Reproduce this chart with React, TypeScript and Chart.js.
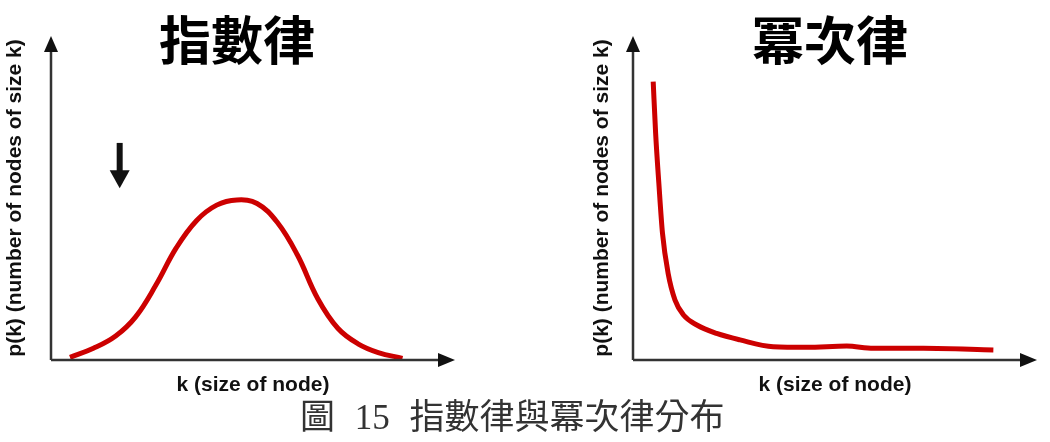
import React, { useEffect, useRef } from "react";
import { Chart, registerables } from "chart.js";

Chart.register(...registerables);

// ---- data ----
const leftTitle = "指數律";
const rightTitle = "冪次律";
const caption = "圖 15 指數律與冪次律分布";
const xAxisLabel = "k (size of node)";
const yAxisLabel = "p(k) (number of nodes of size k)";

// bell-shaped curve (left)
const bellK = [4.7, 10.5, 16, 21, 26, 31, 36, 41, 46, 51, 56, 61, 66, 71, 76, 81, 87];
const bellP = [0.8, 3.6, 7.4, 13.4, 23.2, 34.6, 43.0, 47.8, 49.4, 48.3, 42.5, 32.4, 19.0, 9.8, 5.0, 2.3, 0.5];

// power-law curve (right)
const powerK = [5.0, 5.6, 6.4, 7.3, 8.7, 10.4, 12.5, 15.8, 20.7, 26.5, 34.7, 43.0, 52.9, 59.5, 71.9, 89.2];
const powerP = [85.9, 70.0, 54.5, 39.1, 26.7, 18.5, 13.9, 10.8, 8.2, 6.2, 4.1, 3.9, 4.3, 3.6, 3.6, 3.1];

// annotation arrow on the left chart (data coordinates)
const downArrowK = [17];
const downArrowP = [67, 53];

const axisMin = 0;
const axisMax = 100;
const curveColor = "#cc0000";

function makeArrowPlugin(withDownArrow: boolean) {
  return {
    id: "axisArrows",
    afterDraw(chart: any) {
      const { ctx, chartArea } = chart;
      const { left, right, top, bottom } = chartArea;
      ctx.save();
      ctx.strokeStyle = "#333";
      ctx.fillStyle = "#111";
      ctx.lineWidth = 2.5;
      ctx.beginPath();
      ctx.moveTo(left, bottom);
      ctx.lineTo(right - 10, bottom);
      ctx.moveTo(left, bottom);
      ctx.lineTo(left, top + 10);
      ctx.stroke();
      // x arrowhead
      ctx.beginPath();
      ctx.moveTo(right, bottom);
      ctx.lineTo(right - 17, bottom - 7);
      ctx.lineTo(right - 17, bottom + 7);
      ctx.closePath();
      ctx.fill();
      // y arrowhead
      ctx.beginPath();
      ctx.moveTo(left, top);
      ctx.lineTo(left - 7, top + 16);
      ctx.lineTo(left + 7, top + 16);
      ctx.closePath();
      ctx.fill();
      if (withDownArrow) {
        const xs = chart.scales.x;
        const ys = chart.scales.y;
        const ax = xs.getPixelForValue(downArrowK[0]);
        const ay0 = ys.getPixelForValue(downArrowP[0]);
        const ay1 = ys.getPixelForValue(downArrowP[1]);
        ctx.strokeStyle = "#111";
        ctx.lineWidth = 6;
        ctx.beginPath();
        ctx.moveTo(ax, ay0);
        ctx.lineTo(ax, ay1 - 14);
        ctx.stroke();
        ctx.beginPath();
        ctx.moveTo(ax, ay1);
        ctx.lineTo(ax - 10, ay1 - 18);
        ctx.lineTo(ax + 10, ay1 - 18);
        ctx.closePath();
        ctx.fill();
      }
      ctx.restore();
    },
  };
}

function buildConfig(
  ks: number[],
  ps: number[],
  yScaleWidth: number,
  yTitleOffset: number,
  padRight: number,
  withDownArrow: boolean,
  monotone: boolean
): any {
  const titleFont = { family: "'Liberation Sans', Arial, sans-serif", size: 21, weight: "bold", lineHeight: 1 };
  return {
    type: "line",
    data: {
      datasets: [
        {
          data: ks.map((k, i) => ({ x: k, y: ps[i] })),
          borderColor: curveColor,
          borderWidth: 5,
          pointRadius: 0,
          fill: false,
          tension: 0.4,
          cubicInterpolationMode: monotone ? "monotone" : "default",
          borderCapStyle: "butt",
        },
      ],
    },
    options: {
      responsive: false,
      maintainAspectRatio: false,
      animation: false,
      layout: { padding: { top: 36, right: padRight, left: 0, bottom: 0 } },
      plugins: { legend: { display: false }, tooltip: { enabled: false }, title: { display: false } },
      scales: {
        x: {
          type: "linear",
          min: axisMin,
          max: axisMax,
          grid: { display: false },
          border: { display: false },
          ticks: { display: false },
          title: { display: true, text: xAxisLabel, color: "#111", font: titleFont, padding: { top: 0, bottom: 4.5 } },
          afterFit: (s: any) => {
            s.height = 40;
          },
        },
        y: {
          type: "linear",
          min: axisMin,
          max: axisMax,
          grid: { display: false },
          border: { display: false },
          ticks: { display: false },
          title: { display: true, text: yAxisLabel, color: "#111", font: titleFont, padding: { top: yTitleOffset - 10.5, bottom: 0 } },
          afterFit: (s: any) => {
            s.width = yScaleWidth;
          },
        },
      },
    },
    plugins: [makeArrowPlugin(withDownArrow)],
  };
}

export default function App() {
  const leftRef = useRef<HTMLCanvasElement>(null);
  const rightRef = useRef<HTMLCanvasElement>(null);

  useEffect(() => {
    const c1 = new Chart(leftRef.current as HTMLCanvasElement, buildConfig(bellK, bellP, 51, 15, 65, true, false));
    const c2 = new Chart(rightRef.current as HTMLCanvasElement, buildConfig(powerK, powerP, 48, 17, 13, false, true));
    return () => {
      c1.destroy();
      c2.destroy();
    };
  }, []);

  const titleStyle: React.CSSProperties = {
    position: "absolute",
    top: 12,
    width: 300,
    textAlign: "center",
    fontFamily: "'Noto Sans CJK TC', 'Noto Sans CJK SC', sans-serif",
    fontWeight: 700,
    fontSize: 52,
    lineHeight: "52px",
    color: "#000",
    whiteSpace: "nowrap",
  };

  return (
    <div style={{ position: "absolute", left: 0, top: 0, width: 1050, height: 442, background: "#fff", overflow: "hidden" }}>
      <canvas ref={leftRef} width={520} height={400} style={{ position: "absolute", left: 0, top: 0, display: "block" }} />
      <canvas ref={rightRef} width={465} height={400} style={{ position: "absolute", left: 585, top: 0, display: "block" }} />
      <div style={{ ...titleStyle, left: 237 - 150 }}>{leftTitle}</div>
      <div style={{ ...titleStyle, left: 830 - 150 }}>{rightTitle}</div>
      <div
        style={{
          position: "absolute",
          left: 300,
          top: 400,
          fontFamily: "'Liberation Serif', 'Noto Sans CJK TC', serif",
          fontSize: 35,
          lineHeight: "35px",
          color: "#333",
          whiteSpace: "pre",
          wordSpacing: 11,
        }}
      >
        {caption}
      </div>
    </div>
  );
}
